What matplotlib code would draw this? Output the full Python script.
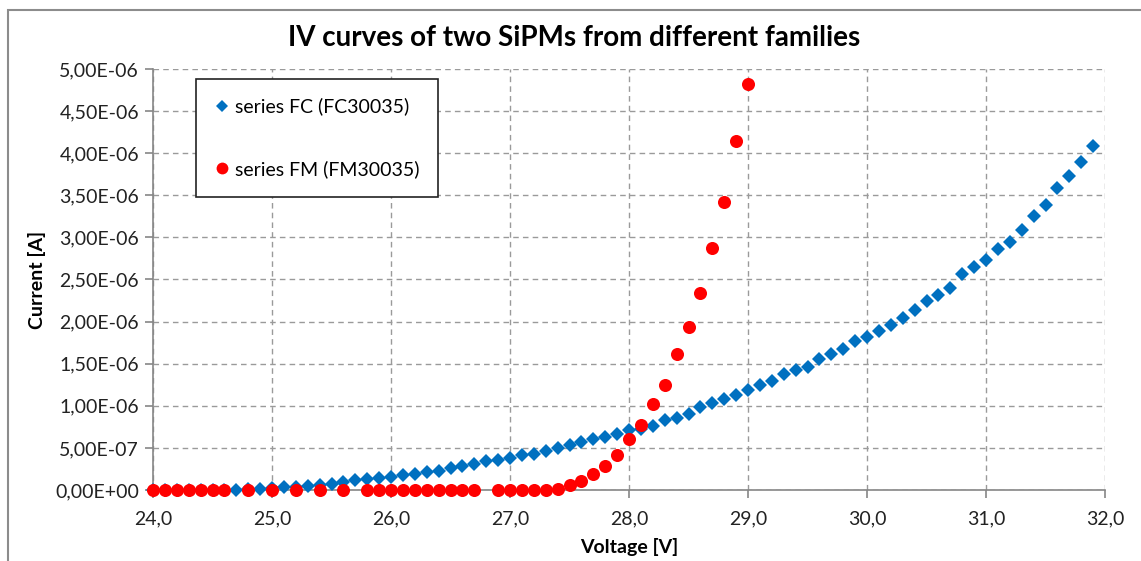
import matplotlib.pyplot as plt
from matplotlib.lines import Line2D
from matplotlib.patches import Rectangle
from matplotlib.ticker import FuncFormatter, MultipleLocator

# 데이터 (그림에서 읽은 값, 전류는 1e-6 A 단위)
fc_voltage = [round(24.0 + 0.1 * i, 1) for i in range(80)]
fc_current = [0.00, 0.00, 0.00, 0.00, 0.00, 0.00, 0.00, 0.005, 0.01, 0.015,
              0.02, 0.03, 0.04, 0.05, 0.06, 0.07, 0.10, 0.12, 0.135, 0.14,
              0.16, 0.175, 0.19, 0.21, 0.23, 0.26, 0.28, 0.31, 0.34, 0.36,
              0.38, 0.41, 0.43, 0.46, 0.50, 0.53, 0.57, 0.61, 0.63, 0.67,
              0.71, 0.73, 0.76, 0.83, 0.86, 0.90, 0.98, 1.03, 1.08, 1.13,
              1.19, 1.25, 1.30, 1.38, 1.43, 1.46, 1.55, 1.61, 1.67, 1.77,
              1.82, 1.89, 1.96, 2.04, 2.14, 2.24, 2.31, 2.40, 2.56, 2.65,
              2.73, 2.86, 2.95, 3.09, 3.25, 3.39, 3.59, 3.73, 3.89, 4.08]

fm_voltage = [24.0, 24.1, 24.2, 24.3, 24.4, 24.5, 24.6, 24.8, 25.0, 25.2,
              25.4, 25.6, 25.8, 25.9, 26.0, 26.1, 26.2, 26.3, 26.4, 26.5,
              26.6, 26.7, 26.9, 27.0, 27.1, 27.2, 27.3, 27.4, 27.5, 27.6,
              27.7, 27.8, 27.9, 28.0, 28.1, 28.2, 28.3, 28.4, 28.5, 28.6,
              28.7, 28.8, 28.9, 29.0]
fm_current = [0.00, 0.00, 0.00, 0.00, 0.00, 0.00, 0.00, 0.00, 0.00, 0.00,
              0.00, 0.00, 0.00, 0.00, 0.00, 0.00, 0.00, 0.00, 0.00, 0.00,
              0.00, 0.00, 0.00, 0.00, 0.00, 0.00, 0.00, 0.01, 0.06, 0.11,
              0.19, 0.29, 0.41, 0.60, 0.77, 1.02, 1.25, 1.61, 1.93, 2.34,
              2.87, 3.42, 4.14, 4.82]

fc_label = 'series FC (FC30035)'
fm_label = 'series FM (FM30035)'

plt.rcParams['font.family'] = ['Lato', 'DejaVu Sans']

blue = '#0070C0'
red = '#FF0000'
gray = '#868686'

fig = plt.figure(figsize=(11.41, 5.61), dpi=100)
# 차트 테두리
fig.patches.append(Rectangle((8 / 1141, -0.1), 1.2, (561 - 10) / 561 + 0.1,
                             transform=fig.transFigure, fill=False,
                             edgecolor='#8c8c8c', linewidth=1.5))

ax = fig.add_axes([0.1341, 0.1266, 0.8344, 0.7504])

ax.plot(fc_voltage, [v * 1e-6 for v in fc_current], linestyle='none',
        marker='D', markersize=7.2, color=blue, markeredgewidth=0, zorder=3,
        clip_on=False)
ax.plot(fm_voltage, [v * 1e-6 for v in fm_current], linestyle='none',
        marker='o', markersize=9.4, color=red, markeredgewidth=0, zorder=4,
        clip_on=False)

ax.set_xlim(24, 32)
ax.set_ylim(0, 5e-6)
ax.xaxis.set_major_locator(MultipleLocator(1))
ax.yaxis.set_major_locator(MultipleLocator(0.5e-6))
ax.xaxis.set_major_formatter(FuncFormatter(lambda v, p: f'{v:.1f}'.replace('.', ',')))
ax.yaxis.set_major_formatter(FuncFormatter(lambda v, p: f'{v:.2E}'.replace('.', ',')))

ax.grid(True, linestyle=(0, (4, 3)), color='#9a9a9a', linewidth=1)
ax.set_axisbelow(True)
for s in ['top', 'right']:
    ax.spines[s].set_visible(False)
for s in ['left', 'bottom']:
    ax.spines[s].set_color(gray)
    ax.spines[s].set_linewidth(1.2)
ax.tick_params(axis='both', colors=gray, labelcolor='#222222', labelsize=14,
               length=6, width=1.2)
ax.tick_params(axis='y', pad=4)
ax.tick_params(axis='x', pad=9)

# 제목은 차트 영역 가운데
fig.text(574 / 1141, 1 - 38 / 561, 'IV curves of two SiPMs from different families',
         fontsize=20, fontweight='bold', ha='center', va='center')
ax.set_xlabel('Voltage [V]', fontsize=14, fontweight='bold', labelpad=7)
ax.set_ylabel('Current [A]', fontsize=14, fontweight='bold', labelpad=7)

# 범례
handles = [Line2D([], [], linestyle='none', marker='D', markersize=6, color=blue, markeredgewidth=0),
           Line2D([], [], linestyle='none', marker='o', markersize=8.5, color=red, markeredgewidth=0)]
leg = ax.legend(handles, [fc_label, fm_label], loc='upper left',
                bbox_to_anchor=(0.045, 0.976), fontsize=14, frameon=True,
                fancybox=False, edgecolor='#222222', framealpha=1,
                labelspacing=2.3, handlelength=0.8, handletextpad=0.25,
                borderpad=0.95, borderaxespad=0)
leg.get_frame().set_linewidth(1.2)

plt.savefig('out.png', dpi=100)
